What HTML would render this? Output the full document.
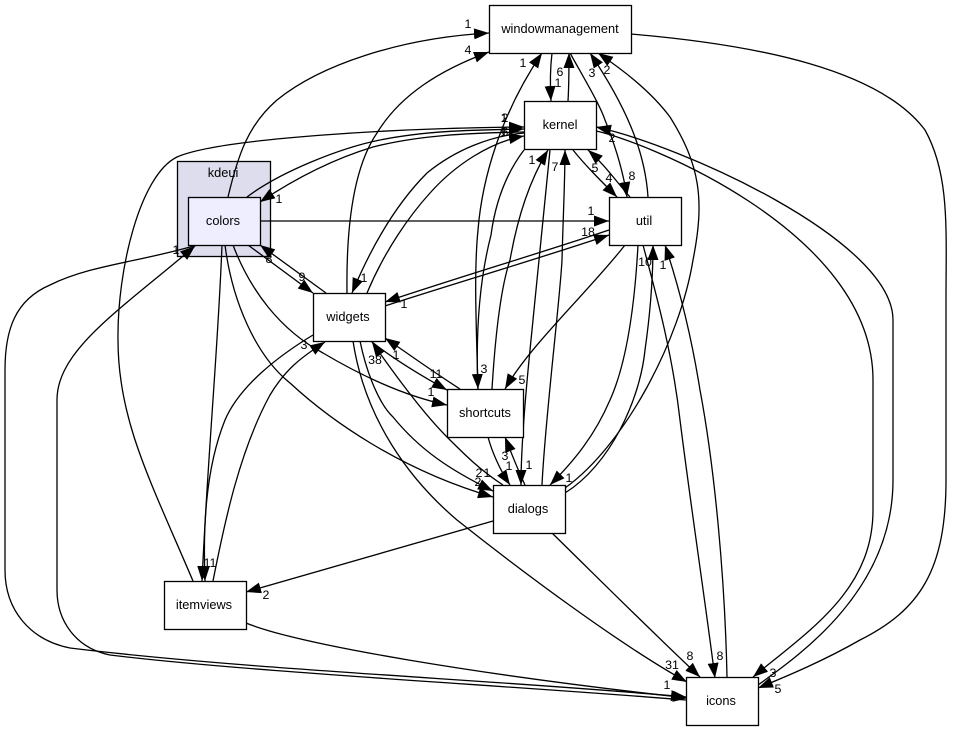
<!DOCTYPE html>
<html>
<head>
<meta charset="utf-8">
<style>
html,body{margin:0;padding:0;background:#fff;}
svg{display:block;}
text{font-family:"Liberation Sans",sans-serif;fill:#000;text-anchor:middle;}
.n{font-size:12.8px;}
.l{font-size:12.4px;}
.e{fill:none;stroke:#000;stroke-width:1.3;marker-end:url(#a);}
.b{fill:#fff;stroke:#000;stroke-width:1.3;}
</style>
</head>
<body>
<svg width="953" height="731" viewBox="0 0 953 731" xmlns="http://www.w3.org/2000/svg">
<defs>
<marker id="a" markerUnits="userSpaceOnUse" markerWidth="16" markerHeight="12" refX="15" refY="5.5" orient="auto">
<path d="M0,0 L15,5.5 L0,11 Z" fill="#000"/>
</marker>
</defs>
<rect x="177.5" y="161.5" width="93" height="95" fill="#ddddee" stroke="#000" stroke-width="1.3"/>
<text class="n" x="223" y="177">kdeui</text>

<path class="e" d="M228,197 C238,155 248,125 277,100 C320,65 400,38 489,33"/>
<path class="e" d="M347,293 C346,220 355,165 377,133 C400,95 440,70 489,52"/>
<path class="e" d="M193,581 C150,480 118,420 118,340 C117,270 140,175 177,157 C220,138 400,128 524,127"/>
<path class="e" d="M247,197 C280,172 340,148 380,140 C430,130 480,130 524,129"/>
<path class="e" d="M524,132 C470,133 420,135 373,147 C330,160 290,182 260,202"/>
<path class="e" d="M524,133 C490,136 455,150 427,173 C395,205 370,250 352,293"/>
<path class="e" d="M367,293 C385,250 410,215 430,193 C455,165 490,142 524,136"/>
<path class="e" d="M552,53 C550,70 550,85 551,101"/>
<path class="e" d="M568,101 C569,85 569,70 569,53"/>
<path class="e" d="M570,53 C585,80 600,105 605,120 C615,145 623,170 627,197"/>
<path class="e" d="M648,197 C645,150 625,105 590,53"/>
<path class="e" d="M565,488 C625,445 680,340 693,260 C705,200 700,165 670,117 C650,90 620,68 598,53"/>
<path class="e" d="M573,150 C585,165 600,180 617,197"/>
<path class="e" d="M630,197 C615,180 605,165 588,150"/>
<path class="e" d="M478,389 C476,320 474,270 478,230 C482,180 500,115 542,53"/>
<path class="e" d="M524,150 C505,175 495,205 491,235 C482,270 475,320 478,389"/>
<path class="e" d="M492,389 C495,340 500,290 510,260 C518,215 530,180 548,150"/>
<path class="e" d="M542,485 C545,420 560,300 562,260 C563,220 565,180 565,150"/>
<path class="e" d="M550,150 C545,200 535,300 530,350 C525,400 521,450 521,485"/>
<path class="e" d="M488,437 C492,452 500,470 510,485"/>
<path class="e" d="M525,485 C518,470 512,455 505,437"/>
<path class="e" d="M625,245 C590,290 530,345 505,389"/>
<path class="e" d="M638,245 C635,300 628,360 610,400 C595,435 575,460 550,485"/>
<path class="e" d="M565,493 C610,465 640,400 645,350 C650,315 653,280 653,245"/>
<path class="e" d="M643,245 C655,290 672,350 680,420 C690,500 705,600 715,678"/>
<path class="e" d="M727,677 C725,580 715,470 700,390 C692,340 680,290 665,245"/>
<path class="e" d="M631,34 C760,45 880,70 925,130 C950,175 946,230 946,300 L946,480 C946,570 920,610 860,640 C825,660 790,675 758,688"/>
<path class="e" d="M758,685 C800,655 893,590 893,480 L893,320 C893,240 680,145 596,127"/>
<path class="e" d="M596,131 C640,140 873,230 873,380 L873,510 C873,590 810,630 753,677"/>
<path class="e" d="M552,533 C600,580 650,630 700,677"/>
<path class="e" d="M353,341 C365,420 410,480 457,520 C520,570 620,645 687,682"/>
<path class="e" d="M246,623 C300,645 480,675 688,698"/>
<path class="e" d="M197,245 C140,262 90,265 50,285 C15,300 5,330 5,370 L5,570 C5,610 30,640 70,648 C250,670 500,680 686,697"/>
<path class="e" d="M686,700 C500,685 250,672 110,655 C75,648 57,620 57,590 L57,400 C57,350 120,310 195,246"/>
<path class="e" d="M222,245 C218,350 208,450 202,581"/>
<path class="e" d="M213,581 C225,520 240,450 270,395 C285,370 300,358 325,342"/>
<path class="e" d="M313,335 C280,355 240,385 225,420 C205,470 203,530 205,581"/>
<path class="e" d="M248,245 L313,293"/>
<path class="e" d="M326,293 L260,245"/>
<path class="e" d="M233,245 C250,290 280,330 323,353 C355,372 400,395 447,405"/>
<path class="e" d="M225,245 C232,300 255,355 290,383 C330,420 400,470 493,497"/>
<path class="e" d="M360,341 C367,375 380,405 393,417 C420,450 450,470 493,491"/>
<path class="e" d="M503,485 C480,470 465,455 447,437 C425,415 395,375 372,342"/>
<path class="e" d="M372,342 C395,360 420,375 447,390"/>
<path class="e" d="M460,389 C435,373 410,355 385,338"/>
<path class="e" d="M385,306 C450,285 550,255 609,235"/>
<path class="e" d="M609,230 C550,250 450,280 385,302"/>
<path class="e" d="M260,221 L609,221"/>
<path class="e" d="M493,521 L246,592"/>

<rect x="489.5" y="5.5" width="142" height="48" class="b"/>
<rect x="524.5" y="101.5" width="72" height="48" class="b"/>
<rect x="609.5" y="197.5" width="72" height="48" class="b"/>
<rect x="188.5" y="197.5" width="72" height="48" fill="#eeeeff" stroke="#000" stroke-width="1.3"/>
<rect x="313.5" y="293.5" width="72" height="48" class="b"/>
<rect x="447.5" y="389.5" width="76" height="48" class="b"/>
<rect x="493.5" y="485.5" width="72" height="48" class="b"/>
<rect x="164.5" y="581.5" width="82" height="48" class="b"/>
<rect x="686.5" y="677.5" width="72" height="48" class="b"/>

<text class="n" x="560" y="33">windowmanagement</text>
<text class="n" x="560" y="129">kernel</text>
<text class="n" x="644" y="225">util</text>
<text class="n" x="223" y="225">colors</text>
<text class="n" x="348" y="321">widgets</text>
<text class="n" x="485" y="417">shortcuts</text>
<text class="n" x="528" y="513">dialogs</text>
<text class="n" x="204" y="609">itemviews</text>
<text class="n" x="721" y="705">icons</text>

<text class="l" x="468" y="28">1</text>
<text class="l" x="468" y="54">4</text>
<text class="l" x="523" y="67">1</text>
<text class="l" x="560" y="76">6</text>
<text class="l" x="558" y="87">1</text>
<text class="l" x="592" y="77">3</text>
<text class="l" x="607" y="74">2</text>
<text class="l" x="612" y="142">2</text>
<text class="l" x="504" y="122">1</text>
<text class="l" x="505" y="122">2</text>
<text class="l" x="505" y="136">6</text>
<text class="l" x="504" y="136">1</text>
<text class="l" x="279" y="203">1</text>
<text class="l" x="532" y="164">1</text>
<text class="l" x="555" y="171">7</text>
<text class="l" x="595" y="172">5</text>
<text class="l" x="609" y="182">4</text>
<text class="l" x="632" y="180">8</text>
<text class="l" x="591" y="215">1</text>
<text class="l" x="588" y="236">18</text>
<text class="l" x="364" y="282">1</text>
<text class="l" x="269" y="263">8</text>
<text class="l" x="302" y="281">9</text>
<text class="l" x="645" y="266">10</text>
<text class="l" x="663" y="269">1</text>
<text class="l" x="404" y="308">1</text>
<text class="l" x="304" y="349">3</text>
<text class="l" x="375" y="364">38</text>
<text class="l" x="396" y="359">1</text>
<text class="l" x="436" y="378">11</text>
<text class="l" x="484" y="373">3</text>
<text class="l" x="522" y="384">5</text>
<text class="l" x="431" y="396">1</text>
<text class="l" x="505" y="460">3</text>
<text class="l" x="509" y="470">1</text>
<text class="l" x="529" y="469">1</text>
<text class="l" x="479" y="477">2</text>
<text class="l" x="487" y="477">1</text>
<text class="l" x="478" y="486">2</text>
<text class="l" x="569" y="482">1</text>
<text class="l" x="210" y="567">11</text>
<text class="l" x="266" y="599">2</text>
<text class="l" x="690" y="660">8</text>
<text class="l" x="720" y="660">8</text>
<text class="l" x="672" y="669">31</text>
<text class="l" x="667" y="689">1</text>
<text class="l" x="773" y="677">3</text>
<text class="l" x="778" y="693">5</text>
<text class="l" x="176" y="254">1</text>
</svg>
</body>
</html>
